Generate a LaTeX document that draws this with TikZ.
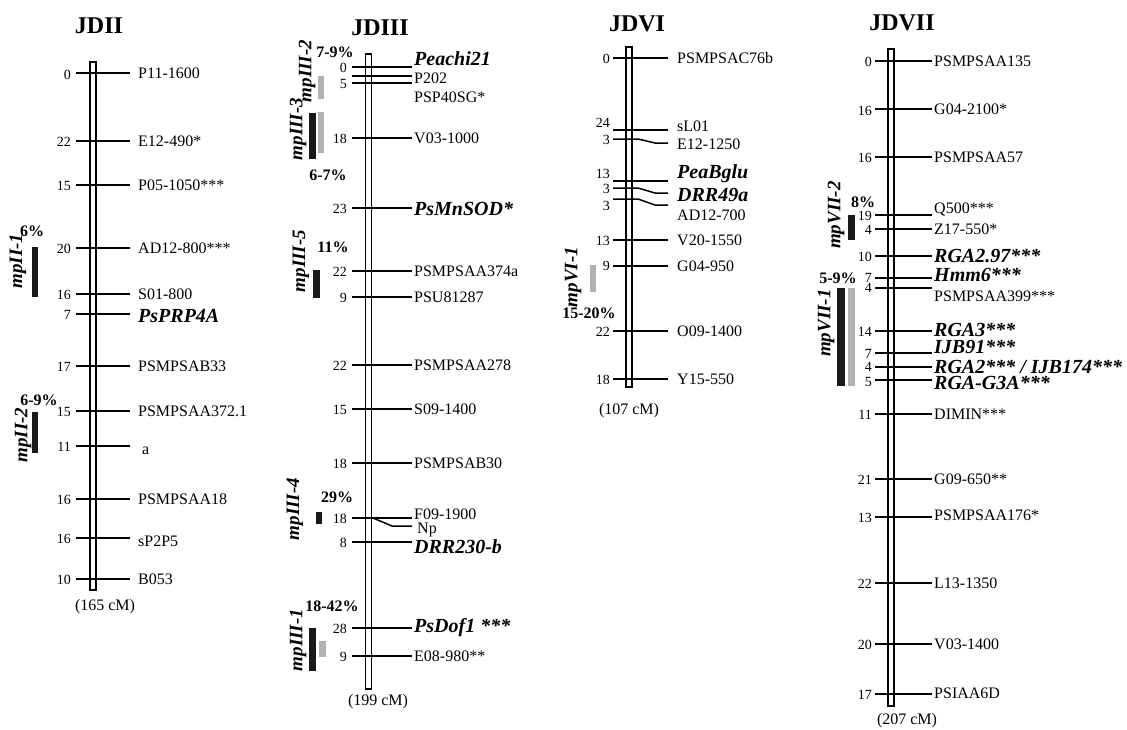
\documentclass[tikz,border=0pt]{standalone}
\usepackage{fontspec}
\setmainfont{Liberation Serif}
\newcommand{\bi}[1]{{\fontsize{20}{20}\selectfont\bfseries\itshape #1}}
\newcommand{\cxL}{0}\newcommand{\cxR}{0}\newcommand{\cxT}{0}\newcommand{\cxN}{0}
\newcommand{\cbA}{638}\newcommand{\cbB}{655}
% id, lineY, numY, num, labY, text
\newcommand{\mk}[6]{%
  \coordinate (l#1) at (\cxL,#2); \coordinate (r#1) at (\cxR,#2);
  \draw[mtick] (l#1) -- (r#1);
  \node[numlab] (n#1) at (\cxN,#3) {#4};
  \node[mlab] (t#1) at (\cxT,#5) {#6};
}
% bent marker: id, lineY, numY, num, endY, labY, text
\newcommand{\bmk}[7]{%
  \coordinate (l#1) at (\cxL,#2); \coordinate (a#1) at (\cbA,#2);
  \coordinate (b#1) at (\cbB,#5); \coordinate (r#1) at (\cxR,#5);
  \draw[mtick] (l#1) -- (a#1) -- (b#1) -- (r#1);
  \node[numlab] (n#1) at (\cxN,#3) {#4};
  \node[mlab] (t#1) at (\cxT,#6) {#7};
}
\tikzset{
  mtick/.style={line width=1.5pt},
  numlab/.style={font=\fontsize{14}{14}\selectfont, inner sep=0pt, anchor=east},
  mlab/.style={font=\fontsize{16}{16}\selectfont, inner sep=0pt, anchor=west},
  cmlab/.style={font=\fontsize{16}{16}\selectfont, inner sep=0pt},
  ttl/.style={font=\fontsize{24}{24}\selectfont\bfseries, inner sep=0pt},
  pct/.style={font=\fontsize{16}{16}\selectfont\bfseries, inner sep=0pt},
  qname/.style={font=\fontsize{19}{19}\selectfont\bfseries\itshape, rotate=90, inner sep=0pt},
  chrom/.style={draw, line width=1.5pt, fill=white, minimum width=6pt, inner sep=0pt},
  barK/.style={fill=black!90, inner sep=0pt, minimum width=6.5pt},
  barG/.style={fill=black!30, inner sep=0pt, minimum width=6.5pt},
}
\begin{document}
\begin{tikzpicture}[x=1pt,y=-1pt]
\useasboundingbox (0,0) rectangle (1127,729);
\fill[white] (0,0) rectangle (1127,729);

% ================= JDII =================
\renewcommand{\cxL}{76}\renewcommand{\cxR}{130}\renewcommand{\cxT}{138}\renewcommand{\cxN}{71}
\node[ttl] (T2) at (99,26) {JDII};
\node[chrom, minimum height=528pt] (c2) at (92.8,326) {};
\mk{a1}{73}{75}{0}{73}{P11-1600}
\mk{a2}{141}{142}{22}{141}{E12-490*}
\mk{a3}{185}{186}{15}{185}{P05-1050***}
\mk{a4}{248}{249}{20}{248}{AD12-800***}
\mk{a5}{294}{295}{16}{294}{S01-800}
\mk{a6}{314}{315}{7}{316}{\bi{PsPRP4A}}
\mk{a7}{366}{367}{17}{366}{PSMPSAB33}
\mk{a8}{411}{412}{15}{411}{PSMPSAA372.1}
\mk{a9}{446}{447}{11}{451}{\hspace{4pt}a}
\mk{a10}{499}{500}{16}{499}{PSMPSAA18}
\mk{a11}{538}{539}{16}{541}{sP2P5}
\mk{a12}{579}{580}{10}{579}{B053}
\node[cmlab] (cm2) at (105,607) {(165 cM)};
\node[barK, minimum height=50pt] (q21) at (35,272) {};
\node[pct] (p21) at (32,231) {6\%};
\node[qname] (m21) at (18,261) {mpII-1};
\node[barK, minimum height=41pt] (q22) at (35,432.5) {};
\node[pct] (p22) at (39,400) {6-9\%};
\node[qname] (m22) at (23,435) {mpII-2};

% ================= JDIII =================
\renewcommand{\cxL}{352}\renewcommand{\cxR}{412}\renewcommand{\cxT}{414}\renewcommand{\cxN}{347}
\node[ttl] (T3) at (380,28) {JDIII};
\node[chrom, minimum height=635pt] (c3) at (368.7,371.5) {};
\mk{b1}{67}{68}{0}{59}{\bi{Peachi21}}
\mk{b2}{76}{76}{}{78}{P202}
\mk{b3}{83}{84}{5}{97}{PSP40SG*}
\mk{b4}{138}{139}{18}{138}{V03-1000}
\mk{b5}{208}{209}{23}{209}{\bi{PsMnSOD*}}
\mk{b6}{271}{272}{22}{271}{PSMPSAA374a}
\mk{b7}{297}{298}{9}{297}{PSU81287}
\mk{b8}{365}{366}{22}{365}{PSMPSAA278}
\mk{b9}{409}{410}{15}{409}{S09-1400}
\mk{b10}{463}{464}{18}{463}{PSMPSAB30}
\mk{b11}{518}{519}{18}{514}{F09-1900}
\coordinate (np1) at (373,518); \coordinate (np2) at (392,526); \coordinate (np3) at (412,526);
\draw[mtick] (np1) -- (np2) -- (np3);
\node[mlab] (tnp) at (417,530) {Np};
\mk{b12}{542}{543}{8}{547}{\bi{DRR230-b}}
\mk{b13}{628}{629}{28}{628}{\bi{PsDof1 ***}}
\mk{b14}{656}{657}{9}{656}{E08-980**}
\node[cmlab] (cm3) at (378,702) {(199 cM)};
\node[barG, minimum height=23pt] (q32g) at (321,87.5) {};
\node[pct] (p32) at (335,52) {7-9\%};
\node[qname] (m32) at (307,71) {mpIII-2};
\node[barK, minimum height=46pt] (q33k) at (312.5,136) {};
\node[barG, minimum height=41pt] (q33g) at (321,132.5) {};
\node[pct] (p33) at (328,175) {6-7\%};
\node[qname] (m33) at (298,129) {mpIII-3};
\node[barK, minimum height=28pt] (q35) at (316.5,284) {};
\node[pct] (p35) at (333,247) {11\%};
\node[qname] (m35) at (301,261) {mpIII-5};
\node[barK, minimum height=12pt] (q34) at (319,518) {};
\node[pct] (p34) at (337,497) {29\%};
\node[qname] (m34) at (295,509) {mpIII-4};
\node[barK, minimum height=43pt] (q31k) at (312.5,649.5) {};
\node[barG, minimum height=16pt] (q31g) at (322.5,649) {};
\node[pct] (p31) at (332,606) {18-42\%};
\node[qname] (m31) at (298,640) {mpIII-1};

% ================= JDVI =================
\renewcommand{\cxL}{613}\renewcommand{\cxR}{668}\renewcommand{\cxT}{677}\renewcommand{\cxN}{610}
\node[ttl] (T6) at (637,24) {JDVI};
\node[chrom, minimum height=340pt] (c6) at (629,217) {};
\mk{c1}{58}{59}{0}{58}{PSMPSAC76b}
\mk{c2}{130}{123}{24}{126}{sL01}
\bmk{c3}{139}{140}{3}{143}{144}{E12-1250}
\mk{c4}{181}{174}{13}{174}{\bi{PeaBglu}}
\bmk{c5}{188}{189}{3}{193}{195}{\bi{DRR49a}}
\bmk{c6}{199}{206}{3}{205}{215}{AD12-700}
\mk{c7}{240}{241}{13}{240}{V20-1550}
\mk{c8}{266}{266}{9}{266}{G04-950}
\mk{c9}{331}{332}{22}{331}{O09-1400}
\mk{c10}{379}{380}{18}{379}{Y15-550}
\node[cmlab] (cm6) at (629,411) {(107 cM)};
\node[barG, minimum height=27pt] (q61) at (593,278.5) {};
\node[pct] (p61) at (589,313) {15-20\%};
\node[qname] (m61) at (573,277) {mpVI-1};

% ================= JDVII =================
\renewcommand{\cxL}{875}\renewcommand{\cxR}{932}\renewcommand{\cxT}{934}\renewcommand{\cxN}{872}
\node[ttl] (T7) at (902,23) {JDVII};
\node[chrom, minimum height=657pt] (c7) at (891,377.5) {};
\mk{d1}{61}{62}{0}{61}{PSMPSAA135}
\mk{d2}{109}{111}{16}{109}{G04-2100*}
\mk{d3}{157}{158}{16}{157}{PSMPSAA57}
\mk{d4}{215}{216}{19}{209}{Q500***}
\mk{d5}{229}{230}{4}{229}{Z17-550*}
\mk{d6}{256}{257}{10}{256}{\bi{RGA2.97***}}
\mk{d7}{278}{278}{7}{275}{\bi{Hmm6***}}
\mk{d8}{288}{288}{4}{296}{PSMPSAA399***}
\mk{d9}{331}{332}{14}{330}{\bi{RGA3***}}
\mk{d10}{353}{354}{7}{347}{\bi{IJB91***}}
\mk{d11}{367}{367}{4}{367}{\bi{RGA2*** / IJB174***}}
\mk{d12}{380}{382}{5}{383}{\bi{RGA-G3A***}}
\mk{d13}{414}{415}{11}{414}{DIMIN***}
\mk{d14}{479}{480}{21}{479}{G09-650**}
\mk{d15}{517}{518}{13}{515}{PSMPSAA176*}
\mk{d16}{583}{584}{22}{583}{L13-1350}
\mk{d17}{644}{645}{20}{644}{V03-1400}
\mk{d18}{694}{695}{17}{693}{PSIAA6D}
\node[cmlab] (cm7) at (907,721) {(207 cM)};
\node[barK, minimum height=25pt] (q72) at (851.5,227.5) {};
\node[pct] (p72) at (863,202) {8\%};
\node[qname] (m72) at (836,215) {mpVII-2};
\node[barK, minimum height=98pt, minimum width=8pt] (q71k) at (841,337) {};
\node[barG, minimum height=98pt, minimum width=7pt] (q71g) at (851.5,337) {};
\node[pct] (p71) at (838,278) {5-9\%};
\node[qname] (m71) at (826,323) {mpVII-1};
\end{tikzpicture}
\end{document}
